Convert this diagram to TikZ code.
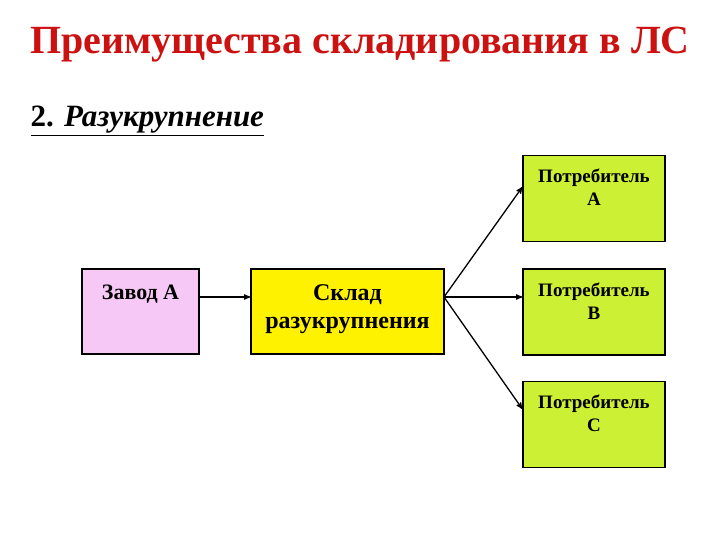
\documentclass[tikz,border=0pt]{standalone}
\usepackage{fontspec}
\setmainfont{Liberation Serif}
\usepackage{xcolor}
\usetikzlibrary{arrows, positioning}
\definecolor{titlered}{RGB}{204,17,17}
\definecolor{pinkbox}{RGB}{245,200,245}
\definecolor{limebox}{RGB}{204,240,51}
\tikzset{
  box/.style={draw, line width=1.3pt, inner sep=0pt},
  lbl/.style={font=\bfseries, align=center, inner sep=0pt, anchor=north},
  link/.style={->, >=stealth', line width=1.3pt},
}

\begin{document}
\begin{tikzpicture}[x=1pt, y=-1pt]
\useasboundingbox (0,0) rectangle (720,540);
\node[font=\fontsize{40}{42}\selectfont\bfseries, text=titlered] (title) at (360,45) {Преимущества складирования в ЛС};
\node[font=\fontsize{31}{33}\selectfont\bfseries, anchor=west] (sub) at (27,121) {\underline{2. \textit{Разукрупнение}}};
% left part
\node[box, fill=pinkbox, minimum width=117pt, minimum height=85pt] (zavod) at (140.5,311.5) {};
\node[lbl, font=\fontsize{22}{24}\selectfont\bfseries] (zavodtxt) at (140.5,285) {Завод А};
\node[box, fill=yellow, minimum width=193pt, minimum height=85pt] (sklad) at (347.5,311.5) {};
\node[lbl, font=\fontsize{24}{28}\selectfont\bfseries] (skladtxt) at (347.5,284) {Склад\\разукрупнения};
\draw[link] (zavod.east |- 0,297) -- (sklad.west |- 0,297);
% consumers
\foreach \c/\y/\t in {a/198.5/A, b/312/B, c/424.5/C} {
    \node[box, fill=limebox, minimum width=142pt, minimum height=86pt] (cons\c) at (594,\y) {};
    \node[lbl, font=\fontsize{19}{23}\selectfont\bfseries] at ([yshift=-14pt]cons\c.north) {Потребитель\\\t};
}
\coordinate (fork) at (444,297);
\draw[link] (fork) -- (consa.west |- 0,187);
\draw[link] (fork) -- (consb.west |- 0,297);
\draw[link] (fork) -- (consc.west |- 0,409);
\end{tikzpicture}
\end{document}
